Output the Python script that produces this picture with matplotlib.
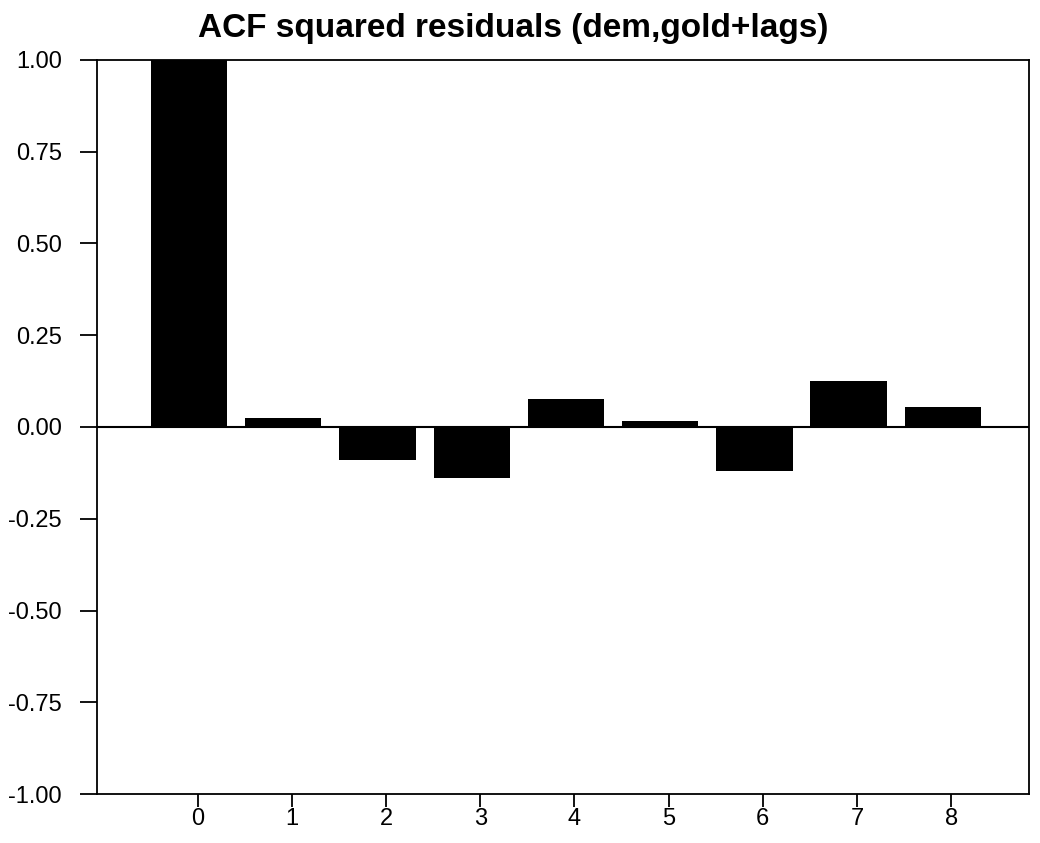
# -*- coding: utf-8 -*-
"""
ACF of squared residuals (dem, gold + lags) as a black bar chart.
"""
import matplotlib
matplotlib.use("Agg")
import matplotlib.pyplot as plt
import numpy as np

# Data
lags = [0, 1, 2, 3, 4, 5, 6, 7, 8]
acf_values = [1.0, 0.025, -0.09, -0.14, 0.075, 0.015, -0.12, 0.125, 0.055]
y_ticks = [-1.0, -0.75, -0.5, -0.25, 0.0, 0.25, 0.5, 0.75, 1.0]
title = "ACF squared residuals (dem,gold+lags)"

plt.rcParams['font.family'] = ['Liberation Sans', 'DejaVu Sans']

fig = plt.figure(figsize=(10.4, 8.43), dpi=100)
ax = fig.add_axes([0.093, 0.058, 0.896, 0.871])

# bars sit slightly left of their tick marks in the original
bar_shift = -0.09
x = np.array(lags) + bar_shift
ax.bar(x, acf_values, width=0.81, color='black', edgecolor='black', linewidth=0)
ax.axhline(0, color='black', linewidth=1.5, zorder=3)

ax.set_xlim(-1.07, 8.82)
ax.set_ylim(-1.0, 1.0)
ax.set_xticks(lags)
ax.set_xticklabels([str(l) for l in lags])
ax.set_yticks(y_ticks)
ax.set_yticklabels([f"{v:.2f}" for v in y_ticks])

ax.tick_params(axis='y', direction='out', length=12, width=1.3,
               labelsize=17, colors='black', pad=13)
ax.tick_params(axis='x', direction='out', length=9, width=1.3,
               labelsize=17, colors='black', pad=1)
for spine in ax.spines.values():
    spine.set_linewidth(1.3)
    spine.set_color('black')

# title sits left of the axes centre in the original
fig.text(0.493, 0.966, title, fontsize=24, fontweight='bold',
         ha='center', va='center')

fig.savefig("out.png", dpi=100, facecolor='white')
